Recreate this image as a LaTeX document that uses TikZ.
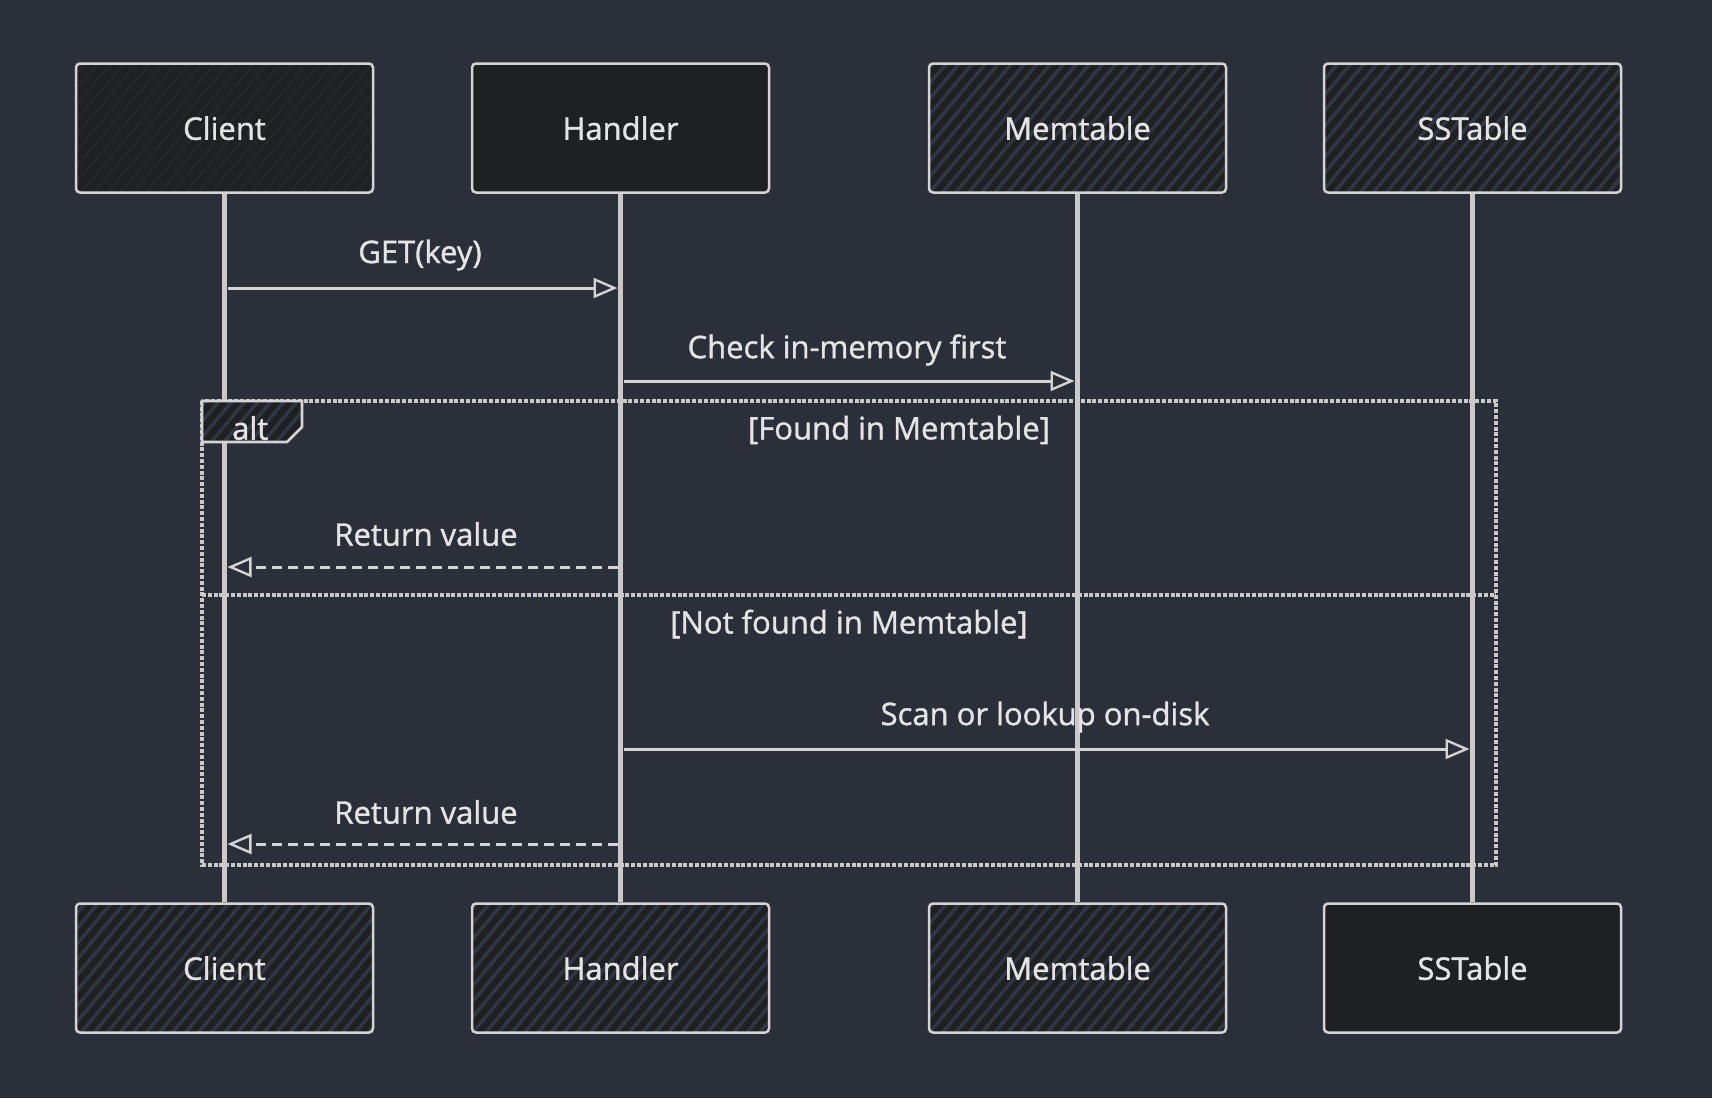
\documentclass[tikz,border=0pt]{standalone}
\usepackage{fontspec}
\setmainfont{Open Sans}[BoldFont={Open Sans}, BoldFeatures={FakeBold=1.2}]
\usetikzlibrary{arrows.meta,patterns.meta}
\definecolor{bg}{HTML}{2B2F3A}
\definecolor{boxfill}{HTML}{1F2022}
\definecolor{stroke}{HTML}{D4D4D4}
\definecolor{lifec}{HTML}{C9C9C9}
\definecolor{txt}{HTML}{E4E4E4}
\definecolor{hatch}{HTML}{313644}
\definecolor{hatchfaint}{HTML}{26282E}
\begin{document}
\begin{tikzpicture}[x=1pt,y=-1pt,
  actor/.style={draw=stroke, line width=2.5pt, rounded corners=4pt,
    minimum width=297pt, minimum height=129pt, inner sep=0pt,
    text=txt, font=\fontsize{31}{36}\selectfont\bfseries, text depth=0pt,
    preaction={fill=boxfill}},
  hatchstrong/.style={pattern={Lines[angle=50,distance=10pt,line width=3.5pt]}, pattern color=hatch},
  hatchweak/.style={pattern={Lines[angle=50,distance=10pt,line width=2pt]}, pattern color=hatchfaint},
  solidbox/.style={fill=boxfill},
  life/.style={draw=lifec, line width=5.5pt},
  msg/.style={draw=stroke, line width=3pt, -{Triangle[open,length=24pt,width=20pt,line width=2.4pt]}},
  reply/.style={msg, dash pattern=on 10pt off 6pt},
  frameline/.style={draw=lifec, line width=4.8pt, dash pattern=on 4pt off 1.8pt},
  lbl/.style={text=txt, font=\fontsize{31}{36}\selectfont\bfseries, inner sep=0pt}
]
\useasboundingbox (0,0) rectangle (1712,1098);
\fill[bg] (0,0) rectangle (1712,1098);

% actors top
\node[actor, hatchweak]   (ct) at (224.5,128) {Client};
\node[actor, solidbox]    (ht) at (620.5,128) {Handler};
\node[actor, hatchstrong] (mt) at (1077.5,128) {Memtable};
\node[actor, hatchstrong] (st) at (1472.5,128) {SSTable};
% actors bottom
\node[actor, hatchstrong] (cb) at (224.5,968) {Client};
\node[actor, hatchstrong] (hb) at (620.5,968) {Handler};
\node[actor, hatchstrong] (mb) at (1077.5,968) {Memtable};
\node[actor, solidbox]    (sb) at (1472.5,968) {SSTable};

% alt frame
\draw[frameline] (202,401) rectangle (1496,865);
\draw[frameline] (202,595) -- (1496,595);

% lifelines
\draw[life] (ct.south) -- (cb.north);
\draw[life] (ht.south) -- (hb.north);
\draw[life] (mt.south) -- (mb.north);
\draw[life] (st.south) -- (sb.north);

% alt tab
\draw[draw=stroke, line width=2.6pt, preaction={fill=boxfill}, hatchstrong]
  (202,401) -- (302,401) -- (302,427) -- (287,442) -- (202,442) -- cycle;
\node[lbl, anchor=west] (alt) at (232,428) {alt};
\node[lbl] (g1) at (899,430) {[Found in Memtable]};
\node[lbl] (g2) at (849,624) {[Not found in Memtable]};

% message rows
\coordinate (r1) at (0,288);
\coordinate (r2) at (0,381);
\coordinate (r3) at (0,567);
\coordinate (r4) at (0,749);
\coordinate (r5) at (0,844);

\draw[msg]   ([xshift=3pt]ct.south |- r1) -- ([xshift=-3pt]ht.south |- r1);
\draw[msg]   ([xshift=3pt]ht.south |- r2) -- ([xshift=-3pt]mt.south |- r2);
\draw[reply] ([xshift=-3pt]ht.south |- r3) -- ([xshift=3pt]ct.south |- r3);
\draw[msg]   ([xshift=3pt]ht.south |- r4) -- ([xshift=-3pt]st.south |- r4);
\draw[reply] ([xshift=-3pt]ht.south |- r5) -- ([xshift=3pt]ct.south |- r5);

% labels
\node[lbl] (m1) at (420,255) {GET(key)};
\node[lbl] (m2) at (847,350) {Check in-memory first};
\node[lbl] (m3) at (426,534) {Return value};
\node[lbl] (m4) at (1045,717) {Scan or lookup on-disk};
\node[lbl] (m5) at (426,812) {Return value};
\end{tikzpicture}
\end{document}
